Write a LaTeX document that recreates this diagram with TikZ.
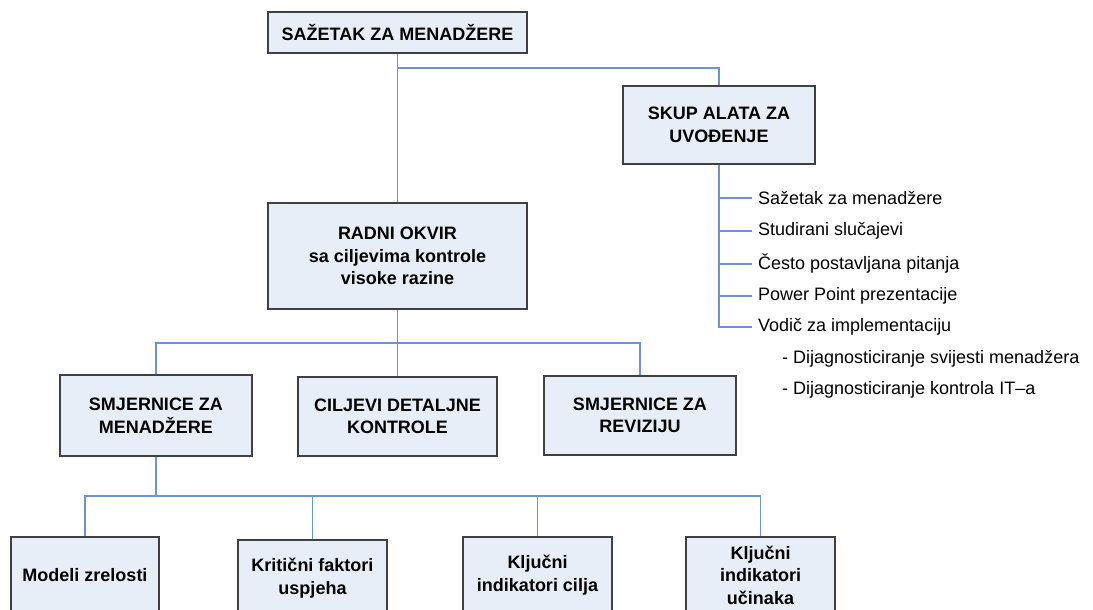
\documentclass[tikz,border=0pt]{standalone}
\usepackage{fontspec}
\setmainfont{Liberation Sans}
\definecolor{boxfill}{RGB}{232,238,248}
\definecolor{boxline}{RGB}{64,64,64}
\definecolor{linkblue}{RGB}{112,146,206}
\begin{document}
\begin{tikzpicture}[x=1pt,y=-1pt,
  box/.style={rectangle, draw=boxline, fill=boxfill, line width=1.3pt,
    align=center, inner sep=0pt, font=\bfseries\fontsize{18}{22.5}\selectfont},
  link/.style={draw=linkblue, line width=1.1pt},
  item/.style={anchor=west, inner sep=0pt, font=\fontsize{18}{22}\selectfont}]
\useasboundingbox (0,0) rectangle (1093,610);
\clip (0,0) rectangle (1093,610);

% boxes
\node[box, minimum width=259pt, minimum height=41pt] (top) at (397.5,32.5) {SAŽETAK ZA MENADŽERE};
\node[box, minimum width=192pt, minimum height=78pt] (skup) at (719,125) {SKUP ALATA ZA\\UVOĐENJE};
\node[box, minimum width=259pt, minimum height=106pt] (radni) at (397.5,256) {RADNI OKVIR\\sa ciljevima kontrole\\visoke razine};
\node[box, minimum width=192pt, minimum height=81pt] (smjM) at (156,415.5) {SMJERNICE ZA\\MENADŽERE};
\node[box, minimum width=199pt, minimum height=79pt] (cilj) at (397.5,416.5) {CILJEVI DETALJNE\\KONTROLE};
\node[box, minimum width=192pt, minimum height=79pt] (smjR) at (640,415.5) {SMJERNICE ZA\\REVIZIJU};
\node[box, minimum width=148pt, minimum height=76pt] (modeli) at (85,575) {Modeli zrelosti};
\node[box, minimum width=149pt, minimum height=76pt] (krit) at (312.5,578) {Kritični faktori\\uspjeha};
\node[box, minimum width=149pt, minimum height=76pt] (klj1) at (537.5,575) {Ključni\\indikatori cilja};
\node[box, minimum width=149pt, minimum height=76pt] (klj2) at (760.5,575) {Ključni\\indikatori\\učinaka};

% toolkit list
\begin{scope}[every node/.style={item, inner xsep=6pt}]
\node (t1) at (752,198) {Sažetak za menadžere};
\node (t2) at (752,231) {Studirani slučajevi};
\node (t3) at (752,264) {Često postavljana pitanja};
\node (t4) at (752,296) {Power Point prezentacije};
\node (t5) at (752,327) {Vodič za implementaciju};
\end{scope}
\node[item] (s1) at (782,359) {- Dijagnosticiranje svijesti menadžera};
\node[item] (s2) at (782,390) {- Dijagnosticiranje kontrola IT–a};

% junctions
\coordinate (j1) at (397.5,68);
\coordinate (j2) at (397.5,343);
\coordinate (j3) at (156,496);

% connectors
\draw[link] (top) -- (radni);
\draw[link] (j1) -| (skup.north);
\foreach \t in {t1,t2,t3,t4,t5} \draw[link] (skup.south) |- (\t.west);
\draw[link] (radni) -- (cilj);
\draw[link] (smjM.north) |- (j2) -| (smjR.north);
\draw[link] (smjM.south) -- (j3);
\draw[link] (modeli.north) |- (j3) -| (klj2.north);
\draw[link] (krit.north) -- (krit.north |- j3);
\draw[link] (klj1.north) -- (klj1.north |- j3);
\end{tikzpicture}
\end{document}
